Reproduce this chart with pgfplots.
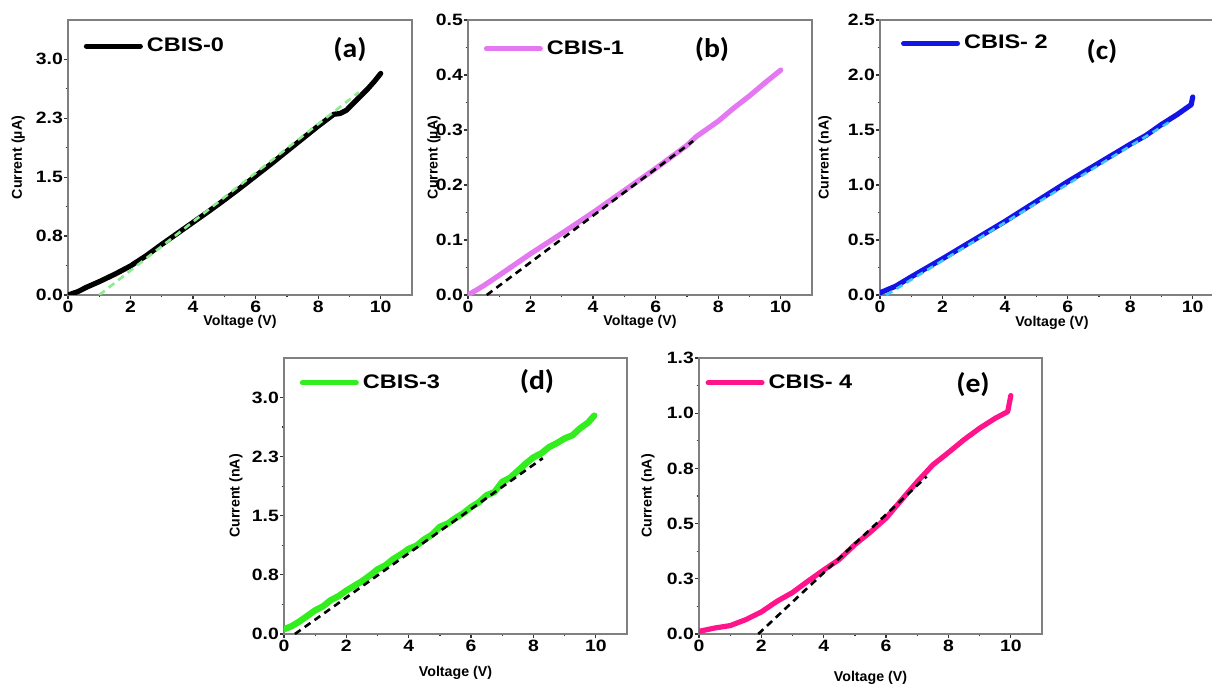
\documentclass[border=0pt]{standalone}
\usepackage{fontspec}
\setmainfont{Liberation Sans}
\newfontfamily\tickfont{Liberation Sans}[FakeStretch=1.18]
\newfontfamily\legfont{Liberation Sans}[FakeStretch=1.2]
\newfontfamily\letfont{Carlito}[FakeStretch=1.1]
\newfontfamily\labfont{Liberation Sans}
\usepackage{pgfplots}
\pgfplotsset{compat=1.18}
\definecolor{cviolet}{RGB}{228,120,240}
\definecolor{cblue}{RGB}{20,20,230}
\definecolor{ccyan}{RGB}{60,200,255}
\definecolor{cgreen}{RGB}{50,238,30}
\definecolor{cpink}{RGB}{255,20,140}
\definecolor{cfitgreen}{RGB}{140,235,140}
\newcommand{\labf}{\labfont\bfseries\fontsize{7.1}{8}\selectfont}
\pgfplotsset{
  panel/.style={
    scale only axis, width=172pt, height=137.5pt,
    xmin=0, xmax=11, xtick={0,2,4,6,8,10}, xticklabels={0,2,4,6,8,10},
    minor x tick num=1, minor y tick num=1,
    tick align=outside, tick pos=left,
    major tick length=1.8pt, minor tick length=1.2pt,
    every tick/.style={black!80, line width=0.6pt},
    axis line style={gray, line width=0.8pt},
    ticklabel style={font=\tickfont\bfseries\fontsize{8.2}{9}\selectfont, black},
    xticklabel style={inner ysep=1.2pt},
    yticklabel style={inner xsep=0.6pt},
    xlabel={Voltage (V)},
    legend style={draw=none, fill=none, font=\legfont\bfseries\fontsize{9.8}{11}\selectfont, anchor=west, inner sep=0pt},
    legend image code/.code={\draw[#1, line width=2.5pt, line cap=round] (0pt,0pt) -- (27pt,0pt);},
    data/.style={line width=2.6pt, line join=round, line cap=round},
    fit/.style={line width=1.3pt, dash pattern=on 3.5pt off 2.5pt, forget plot},
  },
  ylab/.style={every axis y label/.style={at={(axis description cs:#1,0.5)}, rotate=90, anchor=center, font=\labf}},
  xlab/.style={every axis x label/.style={at={(axis description cs:0.5,#1)}, anchor=center, font=\labf}},
}
\begin{document}
\begin{tikzpicture}
\useasboundingbox (0,0) rectangle (606pt,343.5pt);
\clip (0,0) rectangle (606pt,343.5pt);
% (a)
\begin{axis}[panel, at={(34pt,196pt)}, anchor=south west,
  ymin=0, ymax=3.5, ytick={0,0.75,1.5,2.25,3.0}, yticklabels={0.0,0.8,1.5,2.3,3.0},
  ylabel={Current (µA)}, ylab=-0.145, xlab=-0.097,
  legend style={at={(0.045,0.905)}}]
\addplot[data, black] coordinates {(0,0) (0.3,0.04) (0.6,0.1) (1,0.17) (1.5,0.265) (2,0.37) (2.5,0.5) (3,0.645) (3.5,0.785) (4,0.925) (4.5,1.065) (5,1.21) (5.5,1.36) (6,1.515) (6.5,1.67) (7,1.83) (7.5,1.99) (8,2.15) (8.3,2.24) (8.5,2.3) (8.7,2.31) (8.9,2.35) (9.1,2.43) (9.3,2.51) (9.6,2.63) (9.8,2.72) (10,2.82)};
\addlegendentry{CBIS-0}
\addplot[fit, cfitgreen] coordinates {(1.0,0) (9.3,2.58)};
\end{axis}
% (b)
\begin{axis}[panel, at={(234pt,196pt)}, anchor=south west,
  ymin=0, ymax=0.5, ytick={0,0.1,0.2,0.3,0.4,0.5}, yticklabels={0.0,0.1,0.2,0.3,0.4,0.5},
  ylabel={Current (µA)}, ylab=-0.099, xlab=-0.097,
  legend style={at={(0.045,0.895)}}]
\addplot[data, cviolet] coordinates {(0,0.0) (0.3,0.01) (0.5,0.017) (1,0.036) (2,0.075) (3,0.112) (4,0.15) (5,0.19) (6,0.23) (7,0.272) (7.3,0.288) (7.6,0.3) (8,0.316) (8.5,0.34) (9,0.362) (9.5,0.386) (10,0.409)};
\addlegendentry{CBIS-1}
\addplot[fit, black] coordinates {(0.6,0) (7.2,0.28)};
\end{axis}
% (c)
\begin{axis}[panel, at={(440pt,196pt)}, anchor=south west,
  ymin=0, ymax=2.5, ytick={0,0.5,1,1.5,2,2.5}, yticklabels={0.0,0.5,1.0,1.5,2.0,2.5},
  ylabel={Current (nA)}, ylab=-0.16, xlab=-0.1,
  legend style={at={(0.06,0.915)}}]
\addplot[data, cblue] coordinates {(0,0.02) (0.5,0.08) (1,0.165) (2,0.33) (3,0.5) (4,0.67) (5,0.85) (6,1.03) (7,1.2) (8,1.37) (8.5,1.45) (9,1.55) (9.5,1.64) (9.8,1.7) (9.95,1.73) (10,1.8)};
\addlegendentry{CBIS- 2}
\addplot[fit, ccyan] coordinates {(0.2,0) (9.3,1.58)};
\end{axis}
% (d)
\begin{axis}[panel, at={(142pt,26.5pt)}, anchor=south west, width=171.5pt, height=138pt,
  ymin=0, ymax=3.5, ytick={0,0.75,1.5,2.25,3.0}, yticklabels={0.0,0.8,1.5,2.3,3.0},
  ylabel={Current (nA)}, ylab=-0.14, xlab=-0.141,
  legend style={at={(0.045,0.91)}}]
\addplot[data, cgreen, line width=3.2pt] coordinates {(0,0.06) (0.25,0.1) (0.5,0.16) (0.75,0.23) (1,0.3) (1.25,0.35) (1.5,0.43) (1.75,0.48) (2,0.55) (2.25,0.61) (2.5,0.67) (2.75,0.74) (3,0.82) (3.25,0.87) (3.5,0.95) (3.75,1.01) (4,1.08) (4.25,1.12) (4.5,1.2) (4.75,1.26) (5,1.36) (5.25,1.4) (5.5,1.47) (5.75,1.53) (6,1.61) (6.25,1.67) (6.5,1.76) (6.75,1.8) (7,1.93) (7.25,1.98) (7.5,2.07) (7.75,2.16) (8,2.24) (8.25,2.29) (8.5,2.37) (8.75,2.42) (9,2.48) (9.25,2.52) (9.5,2.61) (9.75,2.68) (9.95,2.77)};
\addlegendentry{CBIS-3}
\addplot[fit, black] coordinates {(0.35,0) (8.3,2.23)};
\end{axis}
% (e)
\begin{axis}[panel, at={(349.5pt,26.5pt)}, anchor=south west, width=171.5pt, height=138pt,
  ymin=0, ymax=1.25, ytick={0,0.25,0.5,0.75,1.0,1.25}, yticklabels={0.0,0.3,0.5,0.8,1.0,1.3},
  ylabel={Current (nA)}, ylab=-0.149, xlab=-0.16,
  legend style={at={(0.018,0.91)}}]
\addplot[data, cpink] coordinates {(0,0.012) (0.5,0.027) (1,0.038) (1.5,0.065) (2,0.1) (2.5,0.148) (3,0.188) (3.5,0.24) (4,0.29) (4.5,0.338) (5,0.405) (5.5,0.462) (6,0.525) (6.5,0.608) (7,0.69) (7.5,0.766) (8,0.822) (8.5,0.88) (9,0.932) (9.5,0.977) (9.9,1.007) (10,1.08)};
\addlegendentry{CBIS- 4}
\addplot[fit, black] coordinates {(1.9,0) (7.3,0.713)};
\end{axis}
% panel letters
\node[font=\letfont\bfseries\fontsize{13.5}{15}\selectfont] at (175pt,318.5pt) {(a)};
\node[font=\letfont\bfseries\fontsize{13.5}{15}\selectfont] at (356pt,318.5pt) {(b)};
\node[font=\letfont\bfseries\fontsize{13.5}{15}\selectfont] at (551pt,317.5pt) {(c)};
\node[font=\letfont\bfseries\fontsize{13.5}{15}\selectfont] at (268.5pt,152.5pt) {(d)};
\node[font=\letfont\bfseries\fontsize{13.5}{15}\selectfont] at (486.5pt,151pt) {(e)};
\end{tikzpicture}
\end{document}
